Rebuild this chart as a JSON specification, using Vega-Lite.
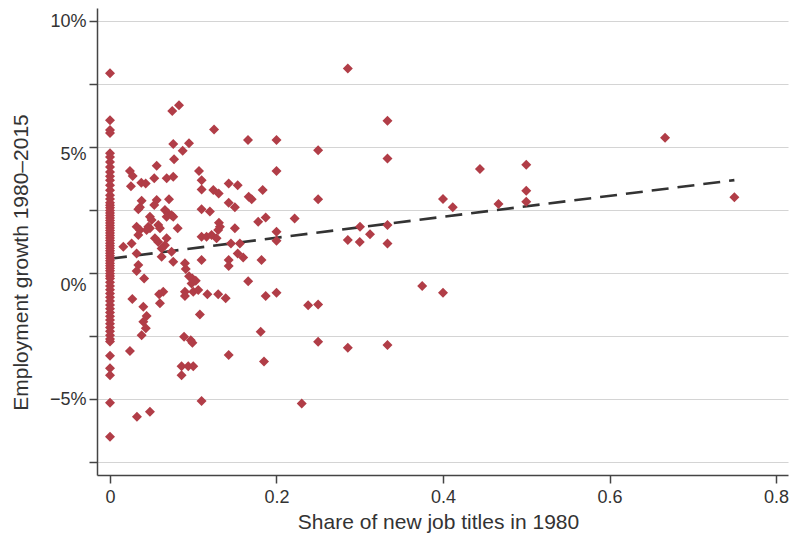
{
  "$schema": "https://vega.github.io/schema/vega-lite/v6.json",
  "width": 691,
  "height": 467,
  "autosize": "none",
  "padding": {"left": 97, "top": 8, "right": 2, "bottom": 60},
  "background": "white",
  "config": {
    "view": {"stroke": null},
    "font": "Liberation Sans",
    "axis": {
      "labelFont": "Liberation Sans",
      "titleFont": "Liberation Sans",
      "labelFontSize": 18,
      "titleFontSize": 21,
      "titleFontWeight": "normal",
      "labelColor": "#333333",
      "titleColor": "#333333",
      "domainColor": "#444444",
      "domainWidth": 1.5,
      "tickColor": "#444444",
      "tickWidth": 1.5,
      "tickSize": 8,
      "gridColor": "#d4d4d4",
      "gridWidth": 1.2
    }
  },
  "datasets": {
    "pts": [
      {"x": 0, "y": 7.94}, {"x": 0, "y": 6.08}, {"x": 0, "y": 5.69}, {"x": 0, "y": 5.57},
      {"x": 0, "y": 4.77}, {"x": 0, "y": 4.62}, {"x": 0, "y": 4.42}, {"x": 0, "y": 4.22},
      {"x": 0, "y": 4.02}, {"x": 0, "y": 3.85}, {"x": 0, "y": 3.7}, {"x": 0, "y": 3.5},
      {"x": 0, "y": 3.3}, {"x": 0, "y": 3.1}, {"x": 0, "y": 2.95}, {"x": 0, "y": 2.8},
      {"x": 0, "y": 2.7}, {"x": 0, "y": 2.6}, {"x": 0, "y": 2.5}, {"x": 0, "y": 2.4},
      {"x": 0, "y": 2.3}, {"x": 0, "y": 2.2}, {"x": 0, "y": 2.1}, {"x": 0, "y": 2.0},
      {"x": 0, "y": 1.9}, {"x": 0, "y": 1.8}, {"x": 0, "y": 1.7}, {"x": 0, "y": 1.6},
      {"x": 0, "y": 1.5}, {"x": 0, "y": 1.4}, {"x": 0, "y": 1.3}, {"x": 0, "y": 1.2},
      {"x": 0, "y": 1.1}, {"x": 0, "y": 1.0}, {"x": 0, "y": 0.9}, {"x": 0, "y": 0.8},
      {"x": 0, "y": 0.7}, {"x": 0, "y": 0.6}, {"x": 0, "y": 0.5}, {"x": 0, "y": 0.4},
      {"x": 0, "y": 0.3}, {"x": 0, "y": 0.2}, {"x": 0, "y": 0.1}, {"x": 0, "y": 0.0},
      {"x": 0, "y": -0.1}, {"x": 0, "y": -0.2}, {"x": 0, "y": -0.35}, {"x": 0, "y": -0.5},
      {"x": 0, "y": -0.65}, {"x": 0, "y": -0.8}, {"x": 0, "y": -0.95}, {"x": 0, "y": -1.1},
      {"x": 0, "y": -1.25}, {"x": 0, "y": -1.4}, {"x": 0, "y": -1.55}, {"x": 0, "y": -1.7},
      {"x": 0, "y": -1.85}, {"x": 0, "y": -2.0}, {"x": 0, "y": -2.15}, {"x": 0, "y": -2.3},
      {"x": 0, "y": -2.45}, {"x": 0, "y": -2.6}, {"x": 0, "y": -2.7}, {"x": 0, "y": -3.27},
      {"x": 0, "y": -3.76}, {"x": 0, "y": -4.04}, {"x": 0, "y": -5.13}, {"x": 0, "y": -6.48},
      {"x": 0.2857, "y": 8.13}, {"x": 0.0748, "y": 6.44}, {"x": 0.0829, "y": 6.67},
      {"x": 0.3333, "y": 6.06}, {"x": 0.125, "y": 5.71}, {"x": 0.076, "y": 5.13},
      {"x": 0.0949, "y": 5.16}, {"x": 0.0873, "y": 4.87}, {"x": 0.1658, "y": 5.29},
      {"x": 0.2, "y": 5.29}, {"x": 0.25, "y": 4.89}, {"x": 0.3333, "y": 4.56},
      {"x": 0.0561, "y": 4.27}, {"x": 0.024, "y": 4.06}, {"x": 0.0273, "y": 3.86},
      {"x": 0.0532, "y": 3.77}, {"x": 0.0681, "y": 3.77}, {"x": 0.076, "y": 3.83},
      {"x": 0.077, "y": 4.53},
      {"x": 0.1069, "y": 4.06}, {"x": 0.2, "y": 4.06}, {"x": 0.0376, "y": 3.6},
      {"x": 0.0429, "y": 3.57}, {"x": 0.0252, "y": 3.46}, {"x": 0.1101, "y": 3.7},
      {"x": 0.1426, "y": 3.57}, {"x": 0.1534, "y": 3.5}, {"x": 0.1101, "y": 3.33},
      {"x": 0.1241, "y": 3.31}, {"x": 0.1306, "y": 3.17}, {"x": 0.1834, "y": 3.31},
      {"x": 0.25, "y": 2.94}, {"x": 0.1666, "y": 3.04}, {"x": 0.1702, "y": 2.94},
      {"x": 0.0709, "y": 2.94}, {"x": 0.0561, "y": 2.91}, {"x": 0.0532, "y": 2.71},
      {"x": 0.038, "y": 2.88}, {"x": 0.036, "y": 2.62}, {"x": 0.034, "y": 2.54},
      {"x": 0.1426, "y": 2.8}, {"x": 0.15, "y": 2.62}, {"x": 0.11, "y": 2.54},
      {"x": 0.12, "y": 2.46}, {"x": 0.066, "y": 2.51}, {"x": 0.07, "y": 2.38},
      {"x": 0.074, "y": 2.31}, {"x": 0.068, "y": 2.25}, {"x": 0.076, "y": 2.25},
      {"x": 0.048, "y": 2.25}, {"x": 0.05, "y": 2.12}, {"x": 0.187, "y": 2.22},
      {"x": 0.178, "y": 2.05}, {"x": 0.2218, "y": 2.18}, {"x": 0.3003, "y": 1.85},
      {"x": 0.3333, "y": 1.92}, {"x": 0.0813, "y": 1.79}, {"x": 0.1309, "y": 2.01},
      {"x": 0.1321, "y": 1.85}, {"x": 0.15, "y": 1.79}, {"x": 0.032, "y": 1.85},
      {"x": 0.036, "y": 1.72}, {"x": 0.034, "y": 1.52}, {"x": 0.046, "y": 1.85},
      {"x": 0.048, "y": 1.79}, {"x": 0.044, "y": 1.72}, {"x": 0.058, "y": 1.92},
      {"x": 0.06, "y": 1.79}, {"x": 0.11, "y": 1.45}, {"x": 0.116, "y": 1.45},
      {"x": 0.122, "y": 1.52}, {"x": 0.128, "y": 1.39}, {"x": 0.13, "y": 1.72},
      {"x": 0.2, "y": 1.65}, {"x": 0.2857, "y": 1.32}, {"x": 0.3, "y": 1.25},
      {"x": 0.3123, "y": 1.55}, {"x": 0.3333, "y": 1.19}, {"x": 0.2, "y": 1.29},
      {"x": 0.054, "y": 1.39}, {"x": 0.058, "y": 1.25}, {"x": 0.068, "y": 1.39},
      {"x": 0.066, "y": 1.12}, {"x": 0.062, "y": 0.99}, {"x": 0.026, "y": 1.19},
      {"x": 0.016, "y": 1.06}, {"x": 0.032, "y": 0.79}, {"x": 0.074, "y": 0.86},
      {"x": 0.062, "y": 0.66}, {"x": 0.1453, "y": 1.19}, {"x": 0.156, "y": 1.19},
      {"x": 0.182, "y": 0.53}, {"x": 0.1534, "y": 0.79}, {"x": 0.16, "y": 0.63},
      {"x": 0.11, "y": 0.53}, {"x": 0.1426, "y": 0.53}, {"x": 0.09, "y": 0.4},
      {"x": 0.076, "y": 0.46}, {"x": 0.034, "y": 0.33}, {"x": 0.032, "y": 0.09},
      {"x": 0.041, "y": -0.2}, {"x": 0.091, "y": 0.17}, {"x": 0.095, "y": -0.11},
      {"x": 0.099, "y": -0.2}, {"x": 0.103, "y": -0.29}, {"x": 0.098, "y": -0.4},
      {"x": 0.1426, "y": 0.29}, {"x": 0.166, "y": -0.31}, {"x": 0.059, "y": -0.83},
      {"x": 0.064, "y": -0.73}, {"x": 0.06, "y": -1.19}, {"x": 0.0268, "y": -1.02},
      {"x": 0.09, "y": -0.73}, {"x": 0.09, "y": -0.9}, {"x": 0.1, "y": -0.73},
      {"x": 0.106, "y": -0.66}, {"x": 0.117, "y": -0.83}, {"x": 0.13, "y": -0.83},
      {"x": 0.139, "y": -0.99}, {"x": 0.187, "y": -0.9}, {"x": 0.2, "y": -0.77},
      {"x": 0.238, "y": -1.26}, {"x": 0.25, "y": -1.23}, {"x": 0.04, "y": -1.32},
      {"x": 0.108, "y": -1.63}, {"x": 0.044, "y": -1.69}, {"x": 0.04, "y": -1.92},
      {"x": 0.043, "y": -2.18}, {"x": 0.038, "y": -2.45}, {"x": 0.181, "y": -2.32},
      {"x": 0.089, "y": -2.51}, {"x": 0.097, "y": -2.65}, {"x": 0.099, "y": -2.75},
      {"x": 0.25, "y": -2.71}, {"x": 0.2857, "y": -2.95}, {"x": 0.3333, "y": -2.84},
      {"x": 0.024, "y": -3.08}, {"x": 0.1426, "y": -3.24}, {"x": 0.185, "y": -3.5},
      {"x": 0.086, "y": -3.68}, {"x": 0.094, "y": -3.68}, {"x": 0.1, "y": -3.68},
      {"x": 0.086, "y": -4.04}, {"x": 0.11, "y": -5.06}, {"x": 0.2303, "y": -5.16},
      {"x": 0.0324, "y": -5.69}, {"x": 0.048, "y": -5.49}, {"x": 0.6667, "y": 5.38},
      {"x": 0.4444, "y": 4.14}, {"x": 0.5, "y": 4.31}, {"x": 0.5, "y": 3.28},
      {"x": 0.4, "y": 2.95}, {"x": 0.4117, "y": 2.62}, {"x": 0.4667, "y": 2.75},
      {"x": 0.5, "y": 2.84}, {"x": 0.75, "y": 3.02}, {"x": 0.375, "y": -0.5},
      {"x": 0.4, "y": -0.77}
    ],
    "fit": [
      {"x": 0, "y": 0.58},
      {"x": 0.75, "y": 3.7}
    ]
  },
  "layer": [
    {
      "data": {"name": "fit"},
      "mark": {"type": "line", "color": "#333333", "strokeWidth": 2.6, "strokeDash": [17, 9]},
      "encoding": {
        "x": {"field": "x", "type": "quantitative"},
        "y": {"field": "y", "type": "quantitative"}
      }
    },
    {
      "data": {"name": "pts"},
      "mark": {"type": "point", "shape": "diamond", "filled": true, "size": 100, "color": "#b13d47", "opacity": 1},
      "encoding": {
        "x": {
          "field": "x", "type": "quantitative",
          "scale": {"domain": [-0.0156, 0.8144], "nice": false, "zero": false},
          "axis": {
            "title": "Share of new job titles in 1980",
            "values": [0, 0.2, 0.4, 0.6, 0.8],
            "labelExpr": "datum.value == 0 ? '0' : format(datum.value, '.1f')",
            "grid": false,
            "labelPadding": 5,
            "titlePadding": 5,
            "titleX": 341
          }
        },
        "y": {
          "field": "y", "type": "quantitative",
          "scale": {"domain": [-8.0, 10.53], "nice": false, "zero": false},
          "axis": {
            "title": "Employment growth 1980–2015",
            "values": [-7.5, -5, -2.5, 0, 2.5, 5, 7.5, 10],
            "labelExpr": "datum.value % 5 == 0 ? format(datum.value, 'd') + '%' : ''",
            "grid": true,
            "labelPadding": 3,
            "titlePadding": 18,
            "titleY": 254,
            "labelOffset": {
              "condition": [
                {"test": "datum.value == 5", "value": 7},
                {"test": "datum.value == 0", "value": 12}
              ],
              "value": 0
            }
          }
        }
      }
    }
  ]
}
